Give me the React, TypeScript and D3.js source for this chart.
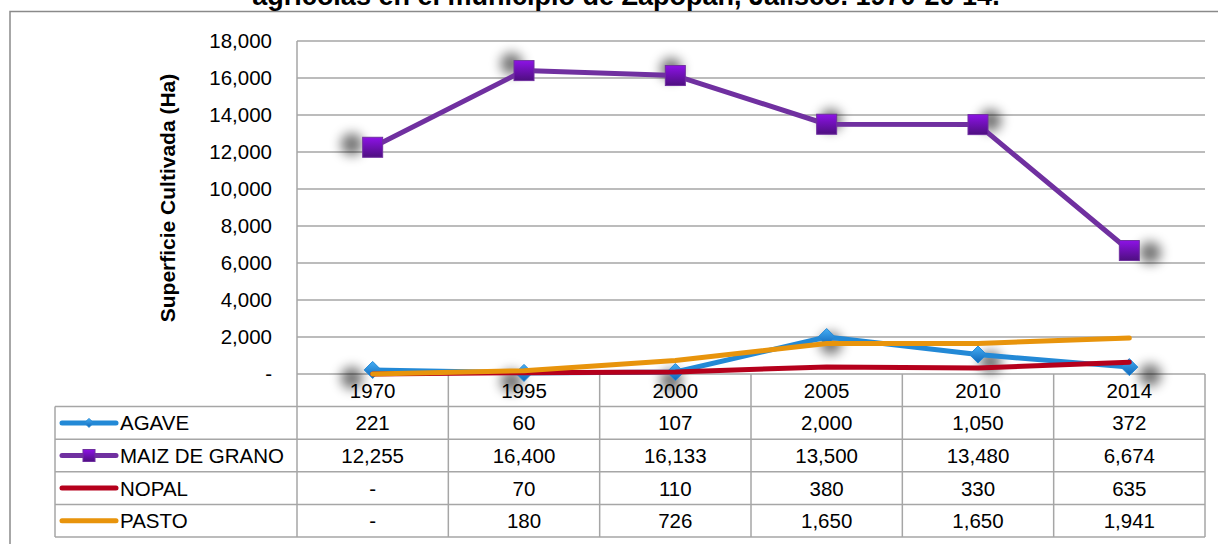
import * as d3 from "d3";
import {useEffect, useRef} from "react";

const years = ["1970", "1995", "2000", "2005", "2010", "2014"];
const agave = [221, 60, 107, 2000, 1050, 372];
const maiz = [12255, 16400, 16133, 13500, 13480, 6674];
const nopal = [0, 70, 110, 380, 330, 635];
const pasto = [0, 180, 726, 1650, 1650, 1941];
const yTicks = [0, 2000, 4000, 6000, 8000, 10000, 12000, 14000, 16000, 18000];

type Series = {name: string; values: number[]; color: string; marker: "diamond" | "square" | "none"};

const series: Series[] = [
  {name: "AGAVE", values: agave, color: "#2389d6", marker: "diamond"},
  {name: "MAIZ DE GRANO", values: maiz, color: "#7030a0", marker: "square"},
  {name: "NOPAL", values: nopal, color: "#b5001c", marker: "none"},
  {name: "PASTO", values: pasto, color: "#e8940c", marker: "none"},
];

const FONT = "'Liberation Sans', Arial, sans-serif";

export default function App() {
  const svgRef = useRef<SVGSVGElement | null>(null);

  useEffect(() => {
    const width = 1218;
    const height = 544;
    const svg = d3.select(svgRef.current)
      .attr("width", width)
      .attr("height", height);
    svg.selectAll("*").remove();

    const left = 297, right = 1205, top = 41, bottom = 374;
    const rowH = 32.6;
    const legendLeft = 55;
    const fs = 20.5;

    const x = d3.scaleBand<string>().domain(years).range([left, right]);
    const cx = (yr: string) => (x(yr) ?? 0) + x.bandwidth() / 2;
    const y = d3.scaleLinear().domain([0, 18000]).range([bottom, top]);
    const fmt = (v: number) => v === 0 ? "-" : d3.format(",")(v);

    const defs = svg.append("defs");
    defs.append("filter").attr("id", "blur")
      .attr("x", "-100%").attr("y", "-100%").attr("width", "300%").attr("height", "300%")
      .append("feGaussianBlur").attr("stdDeviation", 6);
    const gSq = defs.append("linearGradient").attr("id", "gsq").attr("x1", 0).attr("y1", 0).attr("x2", 0).attr("y2", 1);
    gSq.append("stop").attr("offset", "0%").attr("stop-color", "#8d12e6");
    gSq.append("stop").attr("offset", "100%").attr("stop-color", "#4e0f80");
    const gDi = defs.append("linearGradient").attr("id", "gdi").attr("x1", 0).attr("y1", 0).attr("x2", 0).attr("y2", 1);
    gDi.append("stop").attr("offset", "0%").attr("stop-color", "#45aef5");
    gDi.append("stop").attr("offset", "100%").attr("stop-color", "#0f66b8");

    svg.append("rect").attr("width", width).attr("height", height).attr("fill", "#fff");

    // outer chart border
    svg.append("rect")
      .attr("x", 10).attr("y", 11.5).attr("width", 1230).attr("height", 560)
      .attr("fill", "none").attr("stroke", "#8a8a8a").attr("stroke-width", 1.5);

    // title (its first line falls outside the picture)
    svg.append("text")
      .attr("x", 626).attr("y", 5)
      .attr("text-anchor", "middle")
      .attr("font-family", FONT).attr("font-weight", "bold").attr("font-size", 27)
      .text("agrícolas en el municipio de Zapopan, Jalisco. 1970-20 14.");

    // grid
    svg.append("g").selectAll("line").data(yTicks.filter(t => t > 0)).enter().append("line")
      .attr("x1", left).attr("x2", right)
      .attr("y1", d => y(d)).attr("y2", d => y(d))
      .attr("stroke", "#a6a6a6").attr("stroke-width", 1.5);

    svg.append("line").attr("x1", left).attr("x2", left).attr("y1", top).attr("y2", bottom)
      .attr("stroke", "#a6a6a6").attr("stroke-width", 1.5);

    svg.append("g").selectAll("text").data(yTicks).enter().append("text")
      .attr("x", 272).attr("y", d => y(d) + 7)
      .attr("text-anchor", "end")
      .attr("font-family", FONT).attr("font-size", fs)
      .text(d => fmt(d));

    svg.append("text")
      .attr("transform", "translate(175,198) rotate(-90)")
      .attr("text-anchor", "middle")
      .attr("font-family", FONT).attr("font-weight", "bold").attr("font-size", 21)
      .text("Superficie Cultivada (Ha)");

    // data table
    const table = svg.append("g").attr("stroke", "#a6a6a6").attr("stroke-width", 1.5);
    const rowY = (i: number) => bottom + rowH * i;
    table.append("line").attr("x1", left).attr("x2", right).attr("y1", bottom).attr("y2", bottom);
    d3.range(1, series.length + 2).forEach(i => {
      table.append("line").attr("x1", legendLeft).attr("x2", right).attr("y1", rowY(i)).attr("y2", rowY(i));
    });
    years.forEach(yr => {
      table.append("line").attr("x1", x(yr) ?? 0).attr("x2", x(yr) ?? 0).attr("y1", bottom).attr("y2", rowY(series.length + 1));
    });
    table.append("line").attr("x1", right).attr("x2", right).attr("y1", bottom).attr("y2", rowY(series.length + 1));
    table.append("line").attr("x1", legendLeft).attr("x2", legendLeft).attr("y1", rowY(1)).attr("y2", rowY(series.length + 1));

    svg.append("g").selectAll("text").data(years).enter().append("text")
      .attr("x", d => cx(d)).attr("y", rowY(0) + rowH / 2 + 8)
      .attr("text-anchor", "middle").attr("font-family", FONT).attr("font-size", fs)
      .text(d => d);

    const drawMarker = (g: d3.Selection<SVGGElement, unknown, null, undefined>, kind: string, px: number, py: number, size: number, color: string) => {
      if (kind === "diamond") {
        g.append("path")
          .attr("d", `M${px},${py - size} L${px + size},${py} L${px},${py + size} L${px - size},${py} Z`)
          .attr("fill", "url(#gdi)").attr("stroke", color).attr("stroke-width", 1);
      } else if (kind === "square") {
        g.append("rect")
          .attr("x", px - size).attr("y", py - size).attr("width", size * 2).attr("height", size * 2)
          .attr("fill", "url(#gsq)").attr("stroke", color).attr("stroke-width", 1);
      }
    };

    series.forEach((s, i) => {
      const ry = rowY(i + 1) + rowH / 2;
      const lg = svg.append("g");
      lg.append("line").attr("x1", 62).attr("x2", 116).attr("y1", ry).attr("y2", ry)
        .attr("stroke", s.color).attr("stroke-width", 5).attr("stroke-linecap", "round");
      drawMarker(lg, s.marker, 89, ry, s.marker === "diamond" ? 4.5 : 6, s.color);
      lg.append("text").attr("x", 120).attr("y", ry + 7.5)
        .attr("font-family", FONT).attr("font-size", fs).text(s.name);
      svg.append("g").selectAll("text").data(s.values).enter().append("text")
        .attr("x", (_, j) => cx(years[j])).attr("y", ry + 7.5)
        .attr("text-anchor", "middle").attr("font-family", FONT).attr("font-size", fs)
        .text(d => fmt(d));
    });

    // series lines with markers and their soft shadows
    const line = d3.line<number>()
      .x((_, j) => cx(years[j]))
      .y(d => y(d));
    const midX = (left + right) / 2, midY = (top + bottom) / 2;

    series.forEach(s => {
      const g = svg.append("g");
      if (s.marker !== "none") {
        g.selectAll("circle").data(s.values).enter().append("circle")
          .attr("cx", (_, j) => cx(years[j]) + (cx(years[j]) - midX) * 0.055)
          .attr("cy", d => y(d) + (y(d) - midY) * 0.05)
          .attr("r", 11)
          .attr("fill", "#000").attr("opacity", 0.55)
          .attr("filter", "url(#blur)");
      }
      g.append("path").datum(s.values)
        .attr("d", line)
        .attr("fill", "none").attr("stroke", s.color).attr("stroke-width", 5)
        .attr("stroke-linecap", "round").attr("stroke-linejoin", "round");
      s.values.forEach((v, j) => drawMarker(g, s.marker, cx(years[j]), y(v), s.marker === "diamond" ? 8.5 : 10, s.color));
    });
  }, []);

  return (
    <svg ref={svgRef} style={{position: "absolute", left: 0, top: 0, display: "block"}}></svg>
  );
}
